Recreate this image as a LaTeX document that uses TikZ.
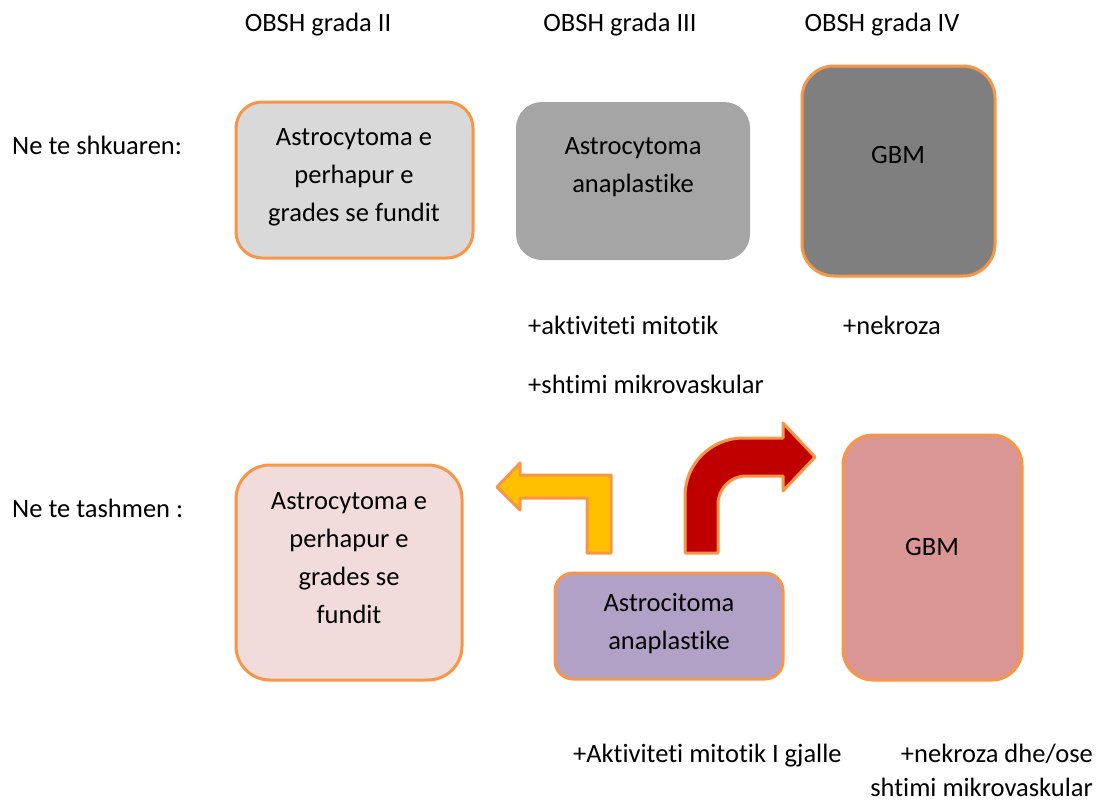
\documentclass[tikz,border=0pt]{standalone}
\usepackage{fontspec}
\setmainfont{Carlito}[RawFeature=-liga]
\definecolor{orline}{HTML}{F79646}
\definecolor{fillA}{HTML}{D9D9D9}
\definecolor{fillB}{HTML}{A5A5A5}
\definecolor{fillC}{HTML}{7F7F7F}
\definecolor{fillD}{HTML}{F2DCDB}
\definecolor{fillE}{HTML}{B2A1C7}
\definecolor{fillF}{HTML}{D99694}
\definecolor{arrY}{HTML}{FFC000}
\definecolor{arrR}{HTML}{C00000}
\begin{document}
\begin{tikzpicture}[x=1pt,y=-1pt,
  txt/.style={font=\fontsize{26.5}{38}\selectfont, inner sep=0pt, align=center, text=black},
  lbl/.style={font=\fontsize{26.5}{38}\selectfont, inner sep=0pt, text height=19pt, text depth=6pt, text=black},
  rbox/.style={rectangle, inner sep=0pt, draw=orline, line width=3pt},
  plainbox/.style={rectangle, inner sep=0pt, draw=none},
  bentarrow/.style={draw=orline, line width=3pt, line join=round}
]
\useasboundingbox (0,0) rectangle (1100,806);

% headers
\node[lbl] (h2) at (318,25) {OBSH grada II};
\node[lbl] (h3) at (620,25) {OBSH grada III};
\node[lbl] (h4) at (882,25) {OBSH grada IV};

% row labels
\node[lbl, anchor=west] (past) at (12,148) {Ne te shkuaren:};
\node[lbl, anchor=west] (now) at (12,511) {Ne te tashmen :};

% top row boxes
\node[rbox, fill=fillA, rounded corners=26pt, minimum width=237pt, minimum height=156pt] (b1) at (354.5,180) {};
\node[txt] (t1) at (354,177) {Astrocytoma e\\perhapur e\\grades se fundit};

\node[plainbox, fill=fillB, rounded corners=26pt, minimum width=234pt, minimum height=158pt] (b2) at (633,181) {};
\node[txt] (t2) at (633,167) {Astrocytoma\\anaplastike};

\node[rbox, fill=fillC, rounded corners=32pt, minimum width=193pt, minimum height=210pt] (b3) at (898.5,171) {};
\node[txt] (t3) at (898,155) {GBM};

% top row notes
\node[lbl, anchor=west] (n1) at (528,328) {+aktiviteti mitotik};
\node[lbl, anchor=west] (n2) at (528,387) {+shtimi mikrovaskular};
\node[lbl, anchor=west] (n3) at (843,328) {+nekroza};

% bottom row boxes
\node[rbox, fill=fillD, rounded corners=34pt, minimum width=226pt, minimum height=215pt] (b4) at (349,572.5) {};
\node[txt] (t4) at (349,558) {Astrocytoma e\\perhapur e\\grades se\\fundit};

\node[rbox, fill=fillE, rounded corners=18pt, minimum width=228pt, minimum height=106pt] (b5) at (669,626) {};
\node[txt] (t5) at (669,624) {Astrocitoma\\anaplastike};

\node[rbox, fill=fillF, rounded corners=30pt, minimum width=179pt, minimum height=245pt] (b6) at (932.5,557.5) {};
\node[txt] (t6) at (932,547) {GBM};

% bent arrows
\draw[bentarrow, fill=arrY] (611,553) -- (611,475) -- (520,475) -- (520,463) -- (497,487) -- (520,510) -- (520,498) -- (587,498) -- (587,553) -- cycle;
\draw[bentarrow, fill=arrR] (685,553) -- (685,496) arc[start angle=180, end angle=270, radius=58] -- (783,438) -- (783,423) -- (815,457) -- (783,491) -- (783,476) -- (746,476) arc[start angle=270, end angle=180, radius=28] -- (718,553) -- cycle;

% bottom notes
\node[lbl, anchor=west] (n4) at (573,756) {+Aktiviteti mitotik I gjalle};
\node[lbl, anchor=east] (n5) at (1093,756) {+nekroza dhe/ose};
\node[lbl, anchor=east] (n6) at (1093,790) {shtimi mikrovaskular};
\end{tikzpicture}
\end{document}
